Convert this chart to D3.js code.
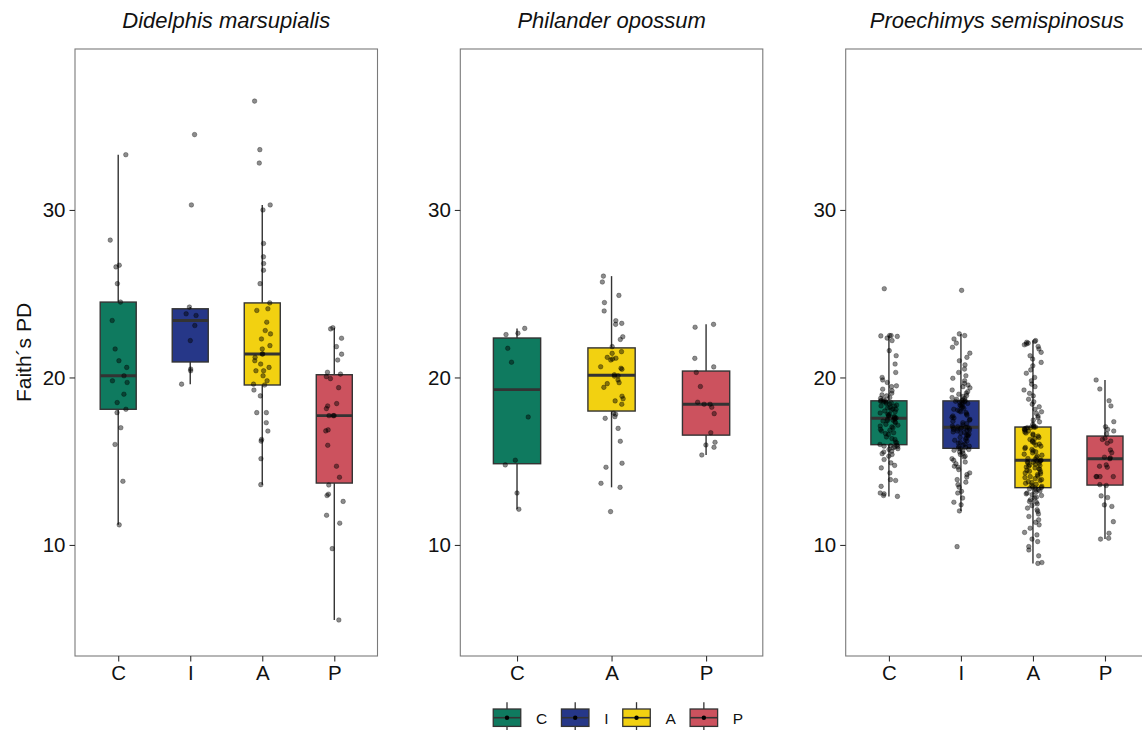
<!DOCTYPE html>
<html>
<head>
<meta charset="utf-8">
<script src="https://cdn.jsdelivr.net/npm/d3@7"></script>
<style>
  body { margin: 0; background: #fff; }
  text { font-family: "Liberation Sans", Arial, sans-serif; fill: #111; }
</style>
</head>
<body>
<svg id="chart" width="1142" height="730"></svg>
<script>
const groups = ["C", "I", "A", "P"];
const groupColors = ["#0f7a5f", "#263788", "#f2d111", "#cc525e"];
const species = ["Didelphis marsupialis", "Philander opossum", "Proechimys semispinosus"];
const yTicks = [10, 20, 30];
const yTitle = "Faith\u00b4s PD";

// Didelphis marsupialis
const dmC = [33.3, 28.2, 26.7, 26.6, 25.6, 24.5, 23.4, 21.7, 21.0, 20.6, 20.1, 19.8, 19.7, 19.0, 18.5, 18.1, 17.9, 17.0, 16.0, 13.8, 11.2];
const dmI = [34.5, 30.3, 24.2, 23.8, 23.7, 23.1, 22.2, 20.5, 20.4, 19.6];
const dmA = [36.5, 33.6, 32.8, 30.3, 30.0, 28.0, 27.2, 26.8, 26.4, 25.6, 24.45, 24.1, 24.0, 23.3, 22.8, 22.6, 22.3, 21.9, 21.7, 21.4,
  21.4, 21.2, 21.0, 20.8, 20.6, 20.4, 20.4, 20.1, 19.8, 19.6, 19.55, 19.25, 18.9, 17.9, 17.9, 17.3, 16.8, 16.3, 16.2, 15.15, 13.6];
const dmP = [22.97, 22.9, 22.34, 21.84, 21.39, 21.04, 20.31, 20.2, 20.05, 19.93, 19.39, 18.44, 18.3, 18.14, 17.72, 17.72, 17.72,
  16.87, 16.81, 15.95, 14.7, 14.04, 13.58, 13.03, 12.95, 12.6, 11.77, 11.3, 9.78, 5.52];

// Philander opossum
const poC = [22.93, 22.64, 22.56, 21.74, 20.91, 17.64, 15.06, 14.78, 13.1, 12.13];
const poA = [26.05, 25.7, 24.9, 24.47, 23.97, 23.39, 23.23, 23.17, 22.43, 22.27, 21.84, 21.54, 21.44, 21.2, 21.15, 21.1, 21.04,
  20.64, 20.55, 20.49, 20.16, 20.1, 20.08, 19.85, 19.69, 19.63, 19.41, 18.88, 18.73, 18.6, 18.4, 17.86, 17.8, 17.66, 17.56,
  16.96, 16.19, 14.88, 14.64, 13.68, 13.44, 11.99];
const poP = [23.17, 23.0, 21.14, 20.63, 20.3, 19.46, 18.52, 18.4, 18.4, 18.22, 17.84, 16.7, 16.13, 15.97, 15.83, 15.37];

// Proechimys semispinosus
const psC = [12.9, 12.95, 13.05, 13.1, 13.5, 13.9, 13.85, 14.3, 14.6, 14.9, 15.1, 15.3, 15.45, 15.55, 15.6, 15.7, 15.75, 15.8,
  15.85, 15.88, 15.9, 15.92, 15.95, 15.4, 14.75,
  16.0, 16.1, 16.15, 16.3, 16.35, 16.45, 16.6, 16.65, 16.7, 16.8, 16.85, 16.9, 17.0, 17.05, 17.1, 17.15, 17.2, 17.3, 17.35,
  17.4, 17.42, 17.45, 17.5, 17.52, 17.55,
  17.58, 17.62, 17.66, 17.7, 17.75, 17.8, 17.82, 17.88, 17.95, 18.0, 18.05, 18.1, 18.12, 18.18, 18.22, 18.28, 18.3, 18.35,
  18.4, 18.45, 18.48, 18.52, 18.55, 18.58, 18.6,
  18.62, 18.68, 18.75, 18.8, 18.9, 18.96, 19.06, 19.2, 19.3, 19.45, 19.5, 19.7, 19.85, 20.0, 20.3, 20.8, 21.3, 21.6, 22.2,
  22.35, 22.45, 22.48, 22.5, 22.5, 25.3];
const psI = [9.9, 12.03, 12.4, 12.55, 12.8, 13.1, 13.2, 13.45, 13.6, 13.75, 13.9, 14.05, 14.2, 14.3, 14.5, 14.65, 14.7, 14.85,
  14.95, 15.05, 15.15, 15.25, 15.3, 15.4, 15.48, 15.55, 15.6, 15.65, 15.7, 15.74, 15.77,
  15.82, 15.86, 15.9, 15.96, 16.02, 16.08, 16.12, 16.2, 16.25, 16.3, 16.38, 16.42, 16.5, 16.55, 16.58, 16.62, 16.68, 16.72,
  16.75, 16.8, 16.83, 16.86, 16.9, 16.92, 16.95, 16.97, 16.99, 17.0, 17.02, 17.03,
  17.06, 17.1, 17.18, 17.25, 17.3, 17.38, 17.45, 17.5, 17.58, 17.62, 17.7, 17.75, 17.82, 17.9, 17.95, 18.0, 18.05, 18.1,
  18.15, 18.2, 18.25, 18.3, 18.35, 18.4, 18.45, 18.5, 18.52, 18.55, 18.58, 18.6,
  18.62, 18.66, 18.7, 18.75, 18.8, 18.86, 18.92, 19.0, 19.06, 19.15, 19.25, 19.38, 19.45, 19.55, 19.65, 19.8, 19.95, 20.1,
  20.3, 20.5, 20.75, 21.0, 21.2, 21.45, 21.8, 22.05, 22.3, 22.5, 22.6, 25.2];
const psA = [8.9, 8.95, 9.35, 9.7, 9.9, 10.2, 10.35, 10.6, 10.75, 11.0, 11.2, 11.35, 11.5, 11.7, 11.85, 12.0, 12.1, 12.2,
  12.35, 12.45, 12.55, 12.6, 12.7, 12.8, 12.85, 12.95, 13.0, 13.05, 13.1, 13.15, 13.22, 13.28, 13.32, 13.36, 13.4, 13.42,
  13.46, 13.5, 13.56, 13.62, 13.68, 13.72, 13.78, 13.85, 13.9, 13.96, 14.02, 14.08, 14.12, 14.2, 14.25, 14.3, 14.36, 14.4,
  14.45, 14.5, 14.55, 14.6, 14.65, 14.7, 14.74, 14.78, 14.82, 14.86, 14.9, 14.94, 14.97, 15.0, 15.02, 15.04, 15.06,
  15.1, 15.16, 15.22, 15.3, 15.36, 15.42, 15.5, 15.56, 15.62, 15.7, 15.76, 15.82, 15.9, 15.96, 16.02, 16.1, 16.16, 16.22,
  16.3, 16.36, 16.42, 16.5, 16.56, 16.62, 16.68, 16.74, 16.8, 16.85, 16.9, 16.94, 16.97, 17.0, 17.01, 17.03, 17.04,
  17.1, 17.2, 17.35, 17.45, 17.6, 17.7, 17.85, 17.95, 18.1, 18.25, 18.4, 18.55, 18.7, 18.9, 19.05, 19.25, 19.45, 19.6,
  19.8, 20.0, 20.25, 20.45, 20.7, 20.9, 21.1, 21.3, 21.5, 21.7, 21.85, 21.95, 22.0, 22.05, 22.1, 22.15, 22.2];
const psP = [19.85, 19.31, 18.61, 18.3, 17.36, 17.06, 16.9, 16.8, 16.63, 16.37, 16.3, 16.2, 16.07, 15.67, 15.51, 15.24, 15.2,
  15.15, 14.78, 14.7, 14.64, 14.08, 14.08, 14.08, 14.08, 13.6, 13.55, 12.93, 12.83, 12.39, 12.3, 11.39, 10.7, 10.4, 10.35];

const panels = [
  { title: species[0], groups: ["C", "I", "A", "P"], values: [dmC, dmI, dmA, dmP] },
  { title: species[1], groups: ["C", "A", "P"], values: [poC, poA, poP] },
  { title: species[2], groups: ["C", "I", "A", "P"], values: [psC, psI, psA, psP] }
];

const svg = d3.select("#chart");
const panelW = 302.5;
const panelTop = 49;
const panelBottom = 656;
const panelLefts = [75, 460.3, 845.7];
const colorOf = d3.scaleOrdinal().domain(groups).range(groupColors);

const y = d3.scaleLinear().domain([3.37, 39.61]).range([panelBottom, panelTop]);

// deterministic jitter
function jit(i, g) {
  const s = Math.sin((i + 1) * 12.9898 + g * 78.233) * 43758.5453;
  return s - Math.floor(s) - 0.5;
}

function boxStats(vals) {
  const v = vals.slice().sort(d3.ascending);
  const q1 = d3.quantile(v, 0.25);
  const med = d3.quantile(v, 0.5);
  const q3 = d3.quantile(v, 0.75);
  const iqr = q3 - q1;
  const lo = d3.min(v.filter((d) => d >= q1 - 1.5 * iqr));
  const hi = d3.max(v.filter((d) => d <= q3 + 1.5 * iqr));
  return { q1, med, q3, lo, hi };
}

panels.forEach((p, pi) => {
  const left = panelLefts[pi];
  const x = d3.scalePoint().domain(p.groups).range([left, left + panelW]).padding(0.6);
  const step = x.step();
  const bw = step * 0.5;
  const g = svg.append("g");

  // title
  g.append("text")
    .attr("x", left + panelW / 2)
    .attr("y", 28)
    .attr("text-anchor", "middle")
    .attr("font-size", 22)
    .attr("font-style", "italic")
    .text(p.title);

  // boxes
  p.groups.forEach((grp, gi) => {
    const st = boxStats(p.values[gi]);
    const cx = x(grp);
    g.append("line")
      .attr("x1", cx).attr("x2", cx)
      .attr("y1", y(st.hi)).attr("y2", y(st.q3))
      .attr("stroke", "#333").attr("stroke-width", 1.4);
    g.append("line")
      .attr("x1", cx).attr("x2", cx)
      .attr("y1", y(st.q1)).attr("y2", y(st.lo))
      .attr("stroke", "#333").attr("stroke-width", 1.4);
    g.append("rect")
      .attr("x", cx - bw / 2)
      .attr("y", y(st.q3))
      .attr("width", bw)
      .attr("height", y(st.q1) - y(st.q3))
      .attr("fill", colorOf(grp))
      .attr("stroke", "#333")
      .attr("stroke-width", 1.4);
    g.append("line")
      .attr("x1", cx - bw / 2).attr("x2", cx + bw / 2)
      .attr("y1", y(st.med)).attr("y2", y(st.med))
      .attr("stroke", "#333").attr("stroke-width", 2.9);
  });

  // jittered points
  p.groups.forEach((grp, gi) => {
    g.selectAll(null)
      .data(p.values[gi])
      .enter()
      .append("circle")
      .attr("cx", (d, i) => x(grp) + jit(i, gi + pi * 4) * step * 0.25)
      .attr("cy", (d) => y(d))
      .attr("r", 2.3)
      .attr("fill", "#000")
      .attr("fill-opacity", 0.45)
      .attr("stroke", "#000")
      .attr("stroke-opacity", 0.5)
      .attr("stroke-width", 0.6);
  });

  // frame
  g.append("rect")
    .attr("x", left)
    .attr("y", panelTop)
    .attr("width", panelW)
    .attr("height", panelBottom - panelTop)
    .attr("fill", "none")
    .attr("stroke", "#7a7a7a")
    .attr("stroke-width", 1.1);

  // axes
  const ay = g.append("g")
    .attr("transform", `translate(${left},0)`)
    .call(d3.axisLeft(y).tickValues(yTicks).tickSize(5.5).tickPadding(4));
  const ax = g.append("g")
    .attr("transform", `translate(0,${panelBottom})`)
    .call(d3.axisBottom(x).tickSize(5.5).tickPadding(4));
  [ay, ax].forEach((a) => {
    a.select(".domain").remove();
    a.selectAll(".tick line").attr("stroke", "#333").attr("stroke-width", 1.1);
    a.selectAll(".tick text")
      .attr("font-size", 20.5)
      .attr("font-family", "Liberation Sans, Arial, sans-serif")
      .attr("fill", "#111");
  });
});

// y axis title
svg.append("text")
  .attr("transform", `translate(30.5,${(panelTop + panelBottom) / 2}) rotate(-90)`)
  .attr("text-anchor", "middle")
  .attr("font-size", 21)
  .text(yTitle);

// legend
const leg = svg.append("g");
let lx = 507;
const ly = 717.7;
const kw = 27.5;
groups.forEach((grp) => {
  leg.append("line")
    .attr("x1", lx).attr("x2", lx)
    .attr("y1", ly - 15.5).attr("y2", ly + 15.5)
    .attr("stroke", "#333").attr("stroke-width", 1.3);
  leg.append("rect")
    .attr("x", lx - kw / 2)
    .attr("y", ly - 8.7)
    .attr("width", kw)
    .attr("height", 17.4)
    .attr("fill", colorOf(grp))
    .attr("stroke", "#333")
    .attr("stroke-width", 1.3);
  leg.append("line")
    .attr("x1", lx - kw / 2).attr("x2", lx + kw / 2)
    .attr("y1", ly).attr("y2", ly)
    .attr("stroke", "#333").attr("stroke-width", 1.6);
  leg.append("circle")
    .attr("cx", lx).attr("cy", ly).attr("r", 2.2)
    .attr("fill", "#000");
  const t = leg.append("text")
    .attr("x", lx + 29)
    .attr("y", ly + 6)
    .attr("font-size", 15.5)
    .text(grp);
  lx = lx + 29 + t.node().getComputedTextLength() + 28;
});
</script>
</body>
</html>
